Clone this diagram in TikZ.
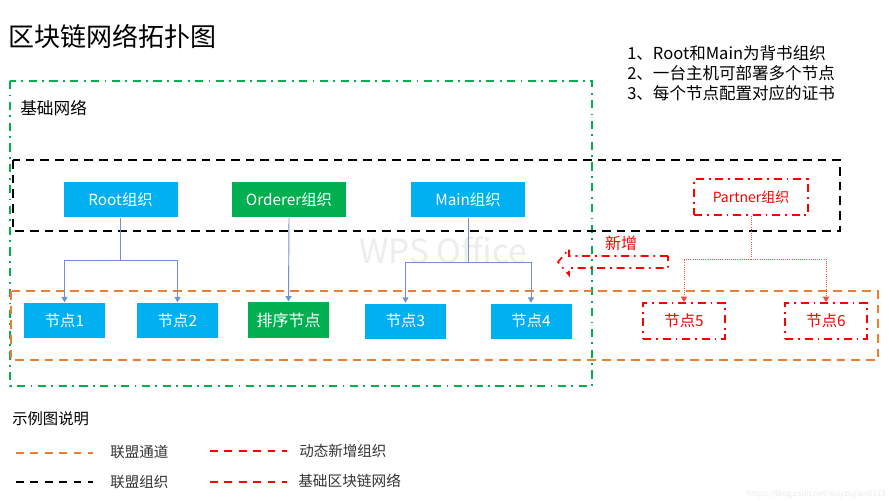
\documentclass[tikz,border=0pt]{standalone}
\usepackage{fontspec}
\setmainfont{Noto Sans CJK SC}
\usetikzlibrary{arrows.meta}
\definecolor{cblue}{HTML}{00B0F0}
\definecolor{cgreen}{HTML}{00B050}
\definecolor{corange}{HTML}{ED7D31}
\definecolor{cred}{HTML}{FF0000}
\definecolor{clink}{HTML}{6F8FD6}
\tikzset{
  px/.style={font=\fontsize{#1}{#1}\selectfont},
  boxbase/.style={inner sep=0pt,text=white,draw=white,line width=.4pt,px=11.5},
  orgblue/.style={boxbase,fill=cblue,minimum width=86.5pt,minimum height=27pt},
  orggreen/.style={boxbase,fill=cgreen,minimum width=86.5pt,minimum height=27pt},
  nodeblue/.style={boxbase,fill=cblue,minimum width=61.5pt,minimum height=27pt},
  nodegreen/.style={boxbase,fill=cgreen,minimum width=61.5pt,minimum height=27.5pt},
  dashdot/.style={dash pattern=on 6pt off 3.6pt on 1.4pt off 3.6pt},
  newbox/.style={draw=cred,line width=1.4pt,dashdot,text=cred,inner sep=0pt,px=11.5},
  greenframe/.style={draw=cgreen,line width=1.3pt,dash pattern=on 6.2pt off 4pt on 1.4pt off 4pt},
  blackframe/.style={draw=black,line width=1.5pt,dash pattern=on 6.6pt off 4.4pt},
  orangeframe/.style={draw=corange,line width=1.1pt,dash pattern=on 6.4pt off 4.6pt},
  keyline/.style={line width=1.2pt,dash pattern=on 5.8pt off 5pt},
  link/.style={draw=clink,line width=.7pt,-{Triangle[length=4pt,width=4.5pt]}},
  linknoarrow/.style={draw=clink,line width=.7pt},
  newlink/.style={draw=cred!75,line width=.6pt,densely dotted,-{Triangle[length=4pt,width=4.5pt]}},
  newlinknoarrow/.style={draw=cred!75,line width=.6pt,densely dotted},
  plain/.style={inner sep=0pt,anchor=west},
}
\begin{document}
\begin{tikzpicture}[x=.75pt,y=-.75pt]
\useasboundingbox (0,0) rectangle (889,500);
\fill[white] (0,0) rectangle (889,500);

\node[plain,px=19.5] (title) at (8,36) {区块链网络拓扑图};
\node[plain,px=12.4] (n1l) at (627,53) {1、Root和Main为背书组织};
\node[plain,px=12.4] (n2l) at (627,73) {2、一台主机可部署多个节点};
\node[plain,px=12.4] (n3l) at (627,93) {3、每个节点配置对应的证书};
\node[plain,px=12.5] (base) at (20,108) {基础网络};

\node[text=black!7,px=25,inner sep=0pt] (wm) at (443,250) {WPS Office};

\draw[greenframe] (10,81) rectangle (592,386);
\draw[blackframe] (13,160) rectangle (840,231);
\draw[orangeframe] (11,291) rectangle (878,360);

\node[orgblue] (root) at (120.5,199.5) {Root组织};
\node[orggreen] (orderer) at (289,199.5) {Orderer组织};
\node[orgblue] (main) at (468,199.5) {Main组织};
\node[newbox,minimum width=85pt,minimum height=27pt,px=10.5] (partner) at (751,197) {Partner组织};

\node[nodeblue] (j1) at (64.5,320.5) {节点1};
\node[nodeblue] (j2) at (177.5,320.5) {节点2};
\node[nodegreen,px=12] (js) at (288.5,320) {排序节点};
\node[nodeblue] (j3) at (405.5,321) {节点3};
\node[nodeblue] (j4) at (531,321) {节点4};
\node[newbox,minimum width=61pt,minimum height=27pt] (j5) at (684,321) {节点5};
\node[newbox,minimum width=61pt,minimum height=27pt] (j6) at (826,321) {节点6};

\coordinate (rj) at (120.5,260);
\coordinate (mj) at (468,262);
\coordinate (pj) at (751,259);
\draw[linknoarrow] (root.south) -- (rj);
\draw[link] (rj) -| (j1.north);
\draw[link] (rj) -| (j2.north);
\draw[link] (orderer.south) -- (js.north);
\draw[linknoarrow] (main.south) -- (mj);
\draw[link] (mj) -| (j3.north);
\draw[link] (mj) -| (j4.north);
\draw[newlinknoarrow] (partner.south) -- (pj);
\draw[newlink] (pj) -| (j5.north);
\draw[newlink] (pj) -| (j6.north);

\node[text=cred,px=12,inner sep=0pt] (xz) at (621,243) {新增};
\draw[draw=cred,line width=1.2pt,dashdot] (668,256) -- (569,256) -- (569,249) -- (558,262) -- (569,275) -- (569,268) -- (668,268) -- cycle;

\node[plain,px=11.5] (leg) at (12,419) {示例图说明};
\coordinate (k1a) at (16,453); \coordinate (k1b) at (93,453);
\coordinate (k2a) at (16,482); \coordinate (k2b) at (93,482);
\coordinate (k3a) at (210,451); \coordinate (k3b) at (287,451);
\coordinate (k4a) at (210,482); \coordinate (k4b) at (287,482);
\draw[keyline,draw=corange] (k1a) -- (k1b);
\draw[keyline,draw=black] (k2a) -- (k2b);
\draw[keyline,draw=cred] (k3a) -- (k3b);
\draw[keyline,draw=cred] (k4a) -- (k4b);
\node[plain,px=10.9,text=black!80] (t1) at (110,452) {联盟通道};
\node[plain,px=10.9,text=black!80] (t2) at (110,482) {联盟组织};
\node[plain,px=10.9,text=black!80] (t3) at (299,451) {动态新增组织};
\node[plain,px=11,text=black!80] (t4) at (298,481) {基础区块链网络};
\node[inner sep=0pt,anchor=east,px=6,text=black!8] (url) at (886,494) {https://blog.csdn.net/wuyoujian0313};
\end{tikzpicture}
\end{document}
